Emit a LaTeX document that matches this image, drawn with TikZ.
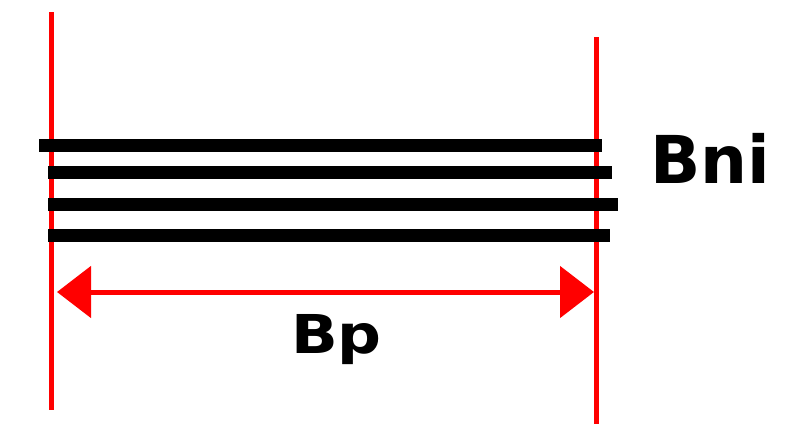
\documentclass[tikz,border=0pt]{standalone}
\usepackage{fontspec}
\usepackage{graphicx}
\setmainfont{DejaVu Sans}
\usetikzlibrary{arrows.meta}
\definecolor{pureRed}{RGB}{255,0,0}
\tikzset{
  guide/.style={draw=pureRed, line width=5pt},
  bar/.style={draw=black, line width=13pt},
  dim/.style={draw=pureRed, line width=5pt, {Triangle[length=34pt,width=51pt]}-{Triangle[length=34pt,width=51pt]}},
  lbl/.style={inner sep=0pt, anchor=base west, font=\bfseries}
}
\begin{document}
\begin{tikzpicture}[x=1pt,y=-1pt]
\useasboundingbox (0,0) rectangle (790,424);
% guide lines
\coordinate (lt) at (51,12);
\coordinate (lb) at (51,410);
\coordinate (rt) at (596,37);
\coordinate (rb) at (596,424);
\draw[guide] (lt) -- (lb);
\draw[guide] (rt) -- (rb);
% bars
\coordinate (b1l) at (39,145.5); \coordinate (b1r) at (602,145.5);
\coordinate (b2l) at (48,172);   \coordinate (b2r) at (612,172);
\coordinate (b3l) at (48,204.5); \coordinate (b3r) at (618,204.5);
\coordinate (b4l) at (48,235);   \coordinate (b4r) at (610,235);
\draw[bar] (b1l) -- (b1r);
\draw[bar] (b2l) -- (b2r);
\draw[bar] (b3l) -- (b3r);
\draw[bar] (b4l) -- (b4r);
% dimension arrow
\coordinate (al) at (57,292);
\coordinate (ar) at (594,292);
\draw[dim] (al) -- (ar);
% labels
\node[lbl] (bni) at (650,183) {\fontsize{66}{66}\selectfont Bni};
\node[lbl] (bp) at (291,353) {\scalebox{1.18}[1.03]{\fontsize{52}{52}\selectfont Bp}};
\end{tikzpicture}
\end{document}
